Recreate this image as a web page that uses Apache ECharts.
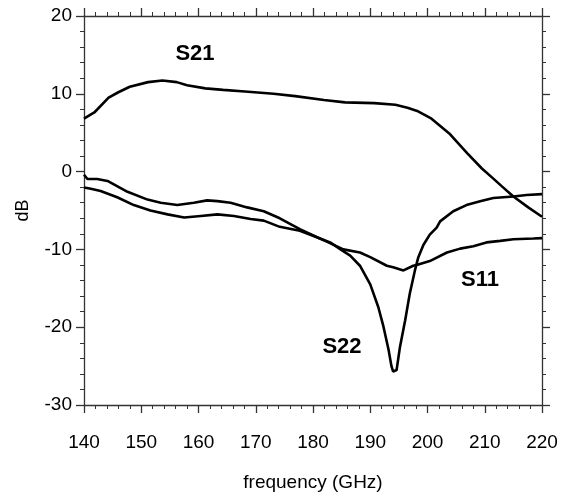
<!DOCTYPE html>
<html>
<head>
<meta charset="utf-8">
<script src="https://cdn.jsdelivr.net/npm/echarts@6/dist/echarts.min.js"></script>
<style>
html,body{margin:0;padding:0;background:#fff;}
#chart{width:563px;height:497px;}
</style>
</head>
<body>
<div id="chart"></div>
<script>
// frequency (GHz) / dB
var s21Freq = [140,141.8,144.3,146,148,151.2,153.7,156.2,158,161.2,164.3,168.1,173.1,176.9,181.9,185.6,190.7,194.4,196.5,198.2,200.7,203.8,207,209.5,211.5,213,215,217.6,220];
var s21Db   = [6.8,7.6,9.5,10.2,10.9,11.5,11.7,11.5,11.1,10.7,10.5,10.3,10.0,9.7,9.2,8.9,8.8,8.6,8.2,7.8,6.8,4.9,2.3,0.4,-0.9,-1.9,-3.2,-4.6,-5.8];

var s22Freq = [140,140.6,142.3,144.1,147.6,151.1,153.4,156.3,159.2,161.5,163.3,165.6,168.5,171.4,174.2,177.7,180.9,183.0,185.2,186.5,188.2,190.0,191.4,192.3,193.2,193.7,194.0,194.6,195.2,196.1,196.9,197.8,198.4,199.3,200.4,201.6,202.2,204.5,206.8,209.2,211.5,215.0,217.3,220];
var s22Db   = [-0.4,-0.95,-0.95,-1.2,-2.6,-3.6,-4.0,-4.3,-4.0,-3.7,-3.8,-4.0,-4.6,-5.1,-6.0,-7.4,-8.5,-9.1,-10.2,-10.8,-12.1,-14.5,-17.4,-19.9,-22.9,-25.0,-25.7,-25.5,-22.5,-19.1,-15.7,-12.7,-11.0,-9.4,-8.1,-7.2,-6.4,-5.1,-4.3,-3.8,-3.4,-3.2,-3.0,-2.9];

var s11Freq = [140,141.2,142.9,145.8,148.7,151.6,154.6,157.5,160.4,163.3,166.2,169.1,171.4,174.2,177.7,180.9,182.4,185.3,188.2,190,192.9,194.0,195.8,197.5,198.1,200.4,203.4,205.7,208.0,210.3,212.7,215.0,218.5,220];
var s11Db   = [-2.05,-2.2,-2.5,-3.3,-4.3,-5.0,-5.5,-5.9,-5.7,-5.5,-5.7,-6.1,-6.3,-7.1,-7.6,-8.5,-9.0,-10.0,-10.4,-11.0,-12.1,-12.3,-12.7,-12.1,-12.0,-11.5,-10.4,-9.9,-9.6,-9.1,-8.9,-8.7,-8.6,-8.55];

var xTicks = [140,150,160,170,180,190,200,210,220];
var yTicks = [-30,-20,-10,0,10,20];

function pairs(xs, ys){ return xs.map(function(x,i){ return [x, ys[i]]; }); }

var FONT = '"Liberation Sans", Arial, sans-serif';
var axisLineStyle = {color:'#333', width:1.3};

function xAxisCfg(pos, showLabels){
  return {
    type:'value', position:pos, min:xTicks[0], max:xTicks[xTicks.length-1], interval:10,
    axisLine:{show:true, onZero:false, lineStyle:axisLineStyle},
    axisTick:{show:true, inside:false, length:8, lineStyle:axisLineStyle},
    minorTick:{show:true, splitNumber:5, length:4, lineStyle:{color:'#333', width:1}},
    splitLine:{show:false},
    axisLabel:{show:showLabels, color:'#000', fontSize:19, fontFamily:FONT, margin:28},
    name: showLabels ? 'frequency (GHz)' : '',
    nameLocation:'middle', nameGap:68,
    nameTextStyle:{color:'#000', fontSize:19, fontFamily:FONT}
  };
}
function yAxisCfg(pos, showLabels){
  return {
    type:'value', position:pos, min:yTicks[0], max:yTicks[yTicks.length-1], interval:10,
    axisLine:{show:true, onZero:false, lineStyle:axisLineStyle},
    axisTick:{show:true, inside:false, length:8, lineStyle:axisLineStyle},
    minorTick:{show:true, splitNumber:5, length:4, lineStyle:{color:'#333', width:1}},
    splitLine:{show:false},
    axisLabel:{show:showLabels, color:'#000', fontSize:19, fontFamily:FONT, margin:12},
    name: showLabels ? 'dB' : '',
    nameLocation:'middle', nameGap:52, nameRotate:90,
    nameTextStyle:{color:'#000', fontSize:18, fontFamily:FONT}
  };
}

var lineStyle = {color:'#000', width:2.6};
function series(name, xs, ys){
  return {name:name, type:'line', xAxisIndex:0, yAxisIndex:0, data:pairs(xs, ys),
    showSymbol:false, symbol:'none', smooth:false, lineStyle:lineStyle, animation:false, z:3};
}

var chart = echarts.init(document.getElementById('chart'), null, {renderer:'canvas'});
chart.setOption({
  backgroundColor:'#fff',
  animation:false,
  grid:{left:84, right:21, top:16, bottom:88, containLabel:false},
  xAxis:[xAxisCfg('bottom', true), xAxisCfg('top', false)],
  yAxis:[yAxisCfg('left', true), yAxisCfg('right', false)],
  series:[
    series('S21', s21Freq, s21Db),
    series('S22', s22Freq, s22Db),
    series('S11', s11Freq, s11Db)
  ],
  graphic:[
    {type:'text', x:195, y:54, style:{text:'S21', fontSize:22, fontWeight:'bold', fontFamily:FONT, fill:'#000', align:'center', verticalAlign:'middle'}},
    {type:'text', x:342, y:347, style:{text:'S22', fontSize:22, fontWeight:'bold', fontFamily:FONT, fill:'#000', align:'center', verticalAlign:'middle'}},
    {type:'text', x:480, y:280, style:{text:'S11', fontSize:22, fontWeight:'bold', fontFamily:FONT, fill:'#000', align:'center', verticalAlign:'middle'}}
  ]
});
</script>
</body>
</html>
